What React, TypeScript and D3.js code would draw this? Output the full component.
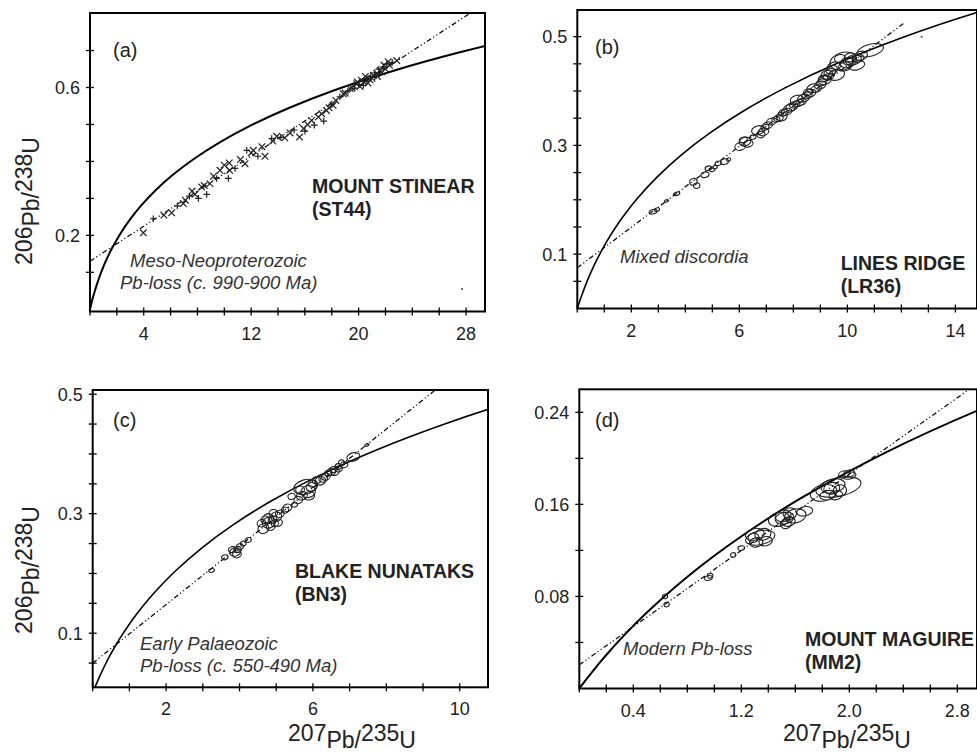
import React from 'react';
import * as d3 from 'd3';

// Decay constants (per year) defining the concordia curve
const LAMBDA238 = 1.55125e-10;
const LAMBDA235 = 9.8485e-10;
const concordiaAgesMa = [0, 10, 25, 50, 75, 100, 150, 200, 300, 400, 500, 600, 700, 800, 900, 1000, 1200, 1400, 1600, 1800, 2000, 2200, 2400, 2600, 2800, 3000, 3200, 3400, 3600, 3800];

// ---------- Panel (a) MOUNT STINEAR : SHRIMP spots (crosses) ----------
const aX = [3.97, 4.71, 5.5, 6.08, 6.5, 6.95, 7.1, 7.4, 7.6, 7.82, 8.07, 8.31, 8.5, 8.69, 8.93, 9.2, 9.43, 9.68, 10.0, 10.3, 10.37, 10.4, 10.8, 11.2, 11.54, 11.67, 12.0, 12.16, 12.5, 12.8, 13.03, 13.53, 13.6, 13.9, 14.2, 14.5, 14.9, 15.2, 15.6, 15.9, 16.0, 16.2, 16.5, 16.7, 17.0, 17.25, 17.4, 17.6, 17.8, 18.0, 18.1, 18.3, 18.6, 18.86, 19.0, 19.2, 19.36, 19.5, 19.7, 19.86, 19.9, 20.0, 20.1, 20.2, 20.35, 20.4, 20.5, 20.6, 20.7, 20.85, 20.9, 21.0, 21.1, 21.2, 21.35, 21.4, 21.5, 21.6, 21.7, 21.84, 21.9, 22.0, 22.1, 22.2, 22.3, 22.5, 22.84];
const aY = [0.207, 0.245, 0.255, 0.261, 0.28, 0.286, 0.295, 0.306, 0.32, 0.311, 0.3, 0.331, 0.335, 0.311, 0.34, 0.36, 0.354, 0.376, 0.39, 0.354, 0.396, 0.376, 0.381, 0.405, 0.394, 0.43, 0.423, 0.43, 0.414, 0.44, 0.414, 0.462, 0.455, 0.468, 0.465, 0.464, 0.477, 0.485, 0.466, 0.489, 0.482, 0.5, 0.511, 0.498, 0.52, 0.529, 0.509, 0.538, 0.545, 0.555, 0.552, 0.565, 0.575, 0.583, 0.585, 0.59, 0.597, 0.6, 0.598, 0.61, 0.615, 0.608, 0.603, 0.62, 0.606, 0.615, 0.63, 0.624, 0.612, 0.621, 0.63, 0.625, 0.633, 0.64, 0.638, 0.63, 0.65, 0.646, 0.642, 0.655, 0.66, 0.65, 0.664, 0.67, 0.66, 0.668, 0.673];
const aStrayX = [27.7];
const aStrayY = [0.055];
const aDiscordiaX = [0, 29.4];
const aDiscordiaY = [0.13, 0.827];
const aXTicks = [0, 2, 4, 6, 8, 10, 12, 14, 16, 18, 20, 22, 24, 26, 28];
const aXLabels = [4, 12, 20, 28];
const aYTicks = [0.1, 0.2, 0.3, 0.4, 0.5, 0.6, 0.7];
const aYLabels = [0.2, 0.6];

// ---------- Panel (b) LINES RIDGE : error ellipses ----------
const bX = [2.81, 2.95, 3.3, 3.68, 4.3, 4.42, 4.73, 4.85, 5.0, 5.1, 5.22, 5.45, 5.6, 6.03, 6.21, 6.33, 6.15, 6.5, 6.7, 6.89, 6.8, 6.95, 7.05, 7.2, 7.35, 7.45, 7.57, 7.63, 7.75, 7.85, 7.94, 8.05, 8.13, 8.38, 8.2, 8.3, 8.5, 8.55, 8.62, 8.74, 8.85, 8.99, 9.05, 9.1, 9.17, 9.24, 9.3, 9.35, 9.42, 9.5, 9.6, 9.85, 9.9, 9.98, 10.05, 10.22, 10.35, 10.4, 10.5, 10.85, 9.72, 10.1];
const bY = [0.178, 0.182, 0.198, 0.211, 0.233, 0.226, 0.246, 0.258, 0.255, 0.26, 0.267, 0.27, 0.274, 0.298, 0.307, 0.303, 0.31, 0.315, 0.328, 0.325, 0.32, 0.333, 0.337, 0.344, 0.348, 0.35, 0.353, 0.36, 0.362, 0.368, 0.371, 0.375, 0.384, 0.387, 0.378, 0.38, 0.392, 0.398, 0.396, 0.405, 0.404, 0.411, 0.416, 0.423, 0.42, 0.43, 0.426, 0.434, 0.439, 0.445, 0.43, 0.455, 0.445, 0.452, 0.455, 0.457, 0.447, 0.46, 0.465, 0.475, 0.46, 0.462];
const bEx = [0.15, 0.1, 0.08, 0.12, 0.14, 0.12, 0.15, 0.12, 0.1, 0.08, 0.12, 0.15, 0.08, 0.2, 0.22, 0.18, 0.15, 0.12, 0.25, 0.2, 0.15, 0.15, 0.18, 0.2, 0.15, 0.18, 0.2, 0.18, 0.2, 0.22, 0.22, 0.2, 0.25, 0.22, 0.2, 0.18, 0.2, 0.18, 0.22, 0.25, 0.2, 0.22, 0.2, 0.18, 0.25, 0.22, 0.2, 0.22, 0.22, 0.25, 0.3, 0.5, 0.25, 0.25, 0.2, 0.3, 0.3, 0.22, 0.25, 0.5, 0.2, 0.22];
const bEy = [0.004, 0.003, 0.002, 0.003, 0.006, 0.005, 0.005, 0.004, 0.003, 0.003, 0.004, 0.005, 0.003, 0.007, 0.008, 0.006, 0.005, 0.004, 0.008, 0.007, 0.006, 0.005, 0.006, 0.006, 0.005, 0.006, 0.008, 0.006, 0.006, 0.007, 0.007, 0.006, 0.008, 0.007, 0.006, 0.006, 0.006, 0.006, 0.007, 0.008, 0.006, 0.007, 0.006, 0.006, 0.008, 0.008, 0.006, 0.007, 0.008, 0.008, 0.01, 0.016, 0.008, 0.009, 0.007, 0.009, 0.008, 0.007, 0.008, 0.011, 0.007, 0.008];
const bStrayX = [12.75];
const bStrayY = [0.5];
const bDiscordiaX = [0, 12.1];
const bDiscordiaY = [0.075, 0.525];
const bXTicks = [0, 1, 2, 3, 4, 5, 6, 7, 8, 9, 10, 11, 12, 13, 14];
const bXLabels = [2, 6, 10, 14];
const bYTicks = [0.05, 0.1, 0.15, 0.2, 0.25, 0.3, 0.35, 0.4, 0.45, 0.5];
const bYLabels = [0.1, 0.3, 0.5];

// ---------- Panel (c) BLAKE NUNATAKS ----------
const cX = [3.24, 3.6, 3.8, 3.88, 3.93, 3.95, 4.01, 4.1, 4.24, 4.6, 4.65, 4.7, 4.78, 4.8, 4.9, 4.92, 4.96, 5.0, 5.05, 5.1, 4.85, 5.24, 5.3, 5.42, 5.6, 5.5, 5.65, 5.7, 5.8, 5.87, 5.9, 5.96, 6.0, 6.1, 6.2, 6.28, 6.35, 6.42, 6.5, 6.56, 6.6, 6.69, 6.7, 6.78, 6.85, 7.1, 7.47];
const cY = [0.205, 0.227, 0.24, 0.236, 0.232, 0.24, 0.245, 0.25, 0.256, 0.284, 0.275, 0.29, 0.292, 0.285, 0.29, 0.301, 0.284, 0.295, 0.285, 0.3, 0.278, 0.306, 0.31, 0.329, 0.323, 0.315, 0.34, 0.33, 0.345, 0.337, 0.33, 0.345, 0.35, 0.356, 0.355, 0.359, 0.362, 0.368, 0.37, 0.374, 0.37, 0.379, 0.375, 0.385, 0.382, 0.395, 0.415];
const cEx = [0.08, 0.09, 0.1, 0.15, 0.12, 0.1, 0.1, 0.08, 0.08, 0.12, 0.15, 0.12, 0.15, 0.18, 0.12, 0.12, 0.1, 0.15, 0.12, 0.12, 0.12, 0.1, 0.12, 0.1, 0.12, 0.08, 0.12, 0.15, 0.33, 0.2, 0.15, 0.15, 0.12, 0.12, 0.15, 0.12, 0.12, 0.1, 0.12, 0.1, 0.12, 0.08, 0.1, 0.08, 0.1, 0.18, 0.06];
const cEy = [0.003, 0.004, 0.005, 0.007, 0.006, 0.005, 0.005, 0.004, 0.004, 0.006, 0.008, 0.006, 0.008, 0.009, 0.006, 0.006, 0.006, 0.008, 0.006, 0.006, 0.006, 0.005, 0.006, 0.005, 0.006, 0.004, 0.006, 0.007, 0.012, 0.01, 0.007, 0.007, 0.006, 0.006, 0.007, 0.006, 0.006, 0.005, 0.006, 0.005, 0.006, 0.005, 0.005, 0.005, 0.005, 0.007, 0.002];
const cDiscordiaX = [0, 9.6];
const cDiscordiaY = [0.05, 0.52];
const cXTicks = [0, 1, 2, 3, 4, 5, 6, 7, 8, 9, 10];
const cXLabels = [2, 6, 10];
const cYTicks = [0.05, 0.1, 0.15, 0.2, 0.25, 0.3, 0.35, 0.4, 0.45, 0.5];
const cYLabels = [0.1, 0.3, 0.5];

// ---------- Panel (d) MOUNT MAGUIRE ----------
const dX = [0.635, 0.647, 0.956, 0.97, 1.14, 1.2, 1.29, 1.3, 1.34, 1.31, 1.36, 1.38, 1.48, 1.51, 1.52, 1.53, 1.55, 1.56, 1.6, 1.67, 1.81, 1.84, 1.87, 1.88, 1.9, 1.92, 1.93, 1.96, 2.0, 2.0];
const dY = [0.08, 0.073, 0.096, 0.098, 0.116, 0.122, 0.131, 0.134, 0.131, 0.127, 0.134, 0.128, 0.147, 0.15, 0.148, 0.143, 0.145, 0.152, 0.15, 0.154, 0.17, 0.168, 0.174, 0.176, 0.168, 0.175, 0.172, 0.186, 0.187, 0.185];
const dEx = [0.02, 0.02, 0.03, 0.02, 0.02, 0.025, 0.04, 0.07, 0.11, 0.05, 0.06, 0.05, 0.08, 0.06, 0.07, 0.04, 0.05, 0.05, 0.08, 0.06, 0.1, 0.06, 0.06, 0.09, 0.05, 0.17, 0.05, 0.04, 0.04, 0.05];
const dEy = [0.002, 0.002, 0.002, 0.002, 0.002, 0.002, 0.004, 0.005, 0.006, 0.004, 0.005, 0.004, 0.006, 0.005, 0.005, 0.004, 0.004, 0.005, 0.006, 0.004, 0.007, 0.004, 0.005, 0.006, 0.004, 0.008, 0.005, 0.003, 0.003, 0.003];
const dDiscordiaX = [0, 2.95];
const dDiscordiaY = [0.0206, 0.265];
const dXTicks = [0, 0.2, 0.4, 0.6, 0.8, 1.0, 1.2, 1.4, 1.6, 1.8, 2.0, 2.2, 2.4, 2.6, 2.8];
const dXLabels = [0.4, 1.2, 2.0, 2.8];
const dYTicks = [0.04, 0.08, 0.12, 0.16, 0.2, 0.24];
const dYLabels = [0.08, 0.16, 0.24];

const FONT = 'Liberation Sans, Arial, Helvetica, sans-serif';
const TXT = '#222';

type PanelCfg = {
  id: string;
  left: number; right: number; top: number; bottom: number;
  xDomain: [number, number]; yDomain: [number, number];
  xTicks: number[]; xLabels: number[]; yTicks: number[]; yLabels: number[];
  xFmt: (v: number) => string; yFmt: (v: number) => string;
  px: number[]; py: number[]; ex?: number[]; ey?: number[];
  strayX?: number[]; strayY?: number[];
  discX: number[]; discY: number[];
  concWidth: number;
  tilt: number;
  letter: string; letterPos: [number, number];
  title: string[]; titlePos: [number, number];
  note: string[]; notePos: [number, number]; note2Shift: number;
  markers: 'cross' | 'ellipse';
};

function PanelView({ p }: { p: PanelCfg }) {
  const x = d3.scaleLinear().domain(p.xDomain).range([p.left, p.right]);
  const y = d3.scaleLinear().domain(p.yDomain).range([p.bottom, p.top]);
  const conc: [number, number][] = concordiaAgesMa.map((t) => [
    Math.exp(LAMBDA235 * t * 1e6) - 1,
    Math.exp(LAMBDA238 * t * 1e6) - 1,
  ]);
  const line = d3
    .line<[number, number]>()
    .x((d) => x(d[0]))
    .y((d) => y(d[1]))
    .curve(d3.curveCatmullRom);
  const disc: [number, number][] = p.discX.map((v, i) => [v, p.discY[i]]);
  const clipId = 'clip-' + p.id;
  const tick = 4;

  return (
    <g>
      <defs>
        <clipPath id={clipId}>
          <rect x={p.left} y={p.top} width={p.right - p.left} height={p.bottom - p.top} />
        </clipPath>
      </defs>
      <g clipPath={`url(#${clipId})`}>
        <path d={line(conc) || ''} fill="none" stroke="#000" strokeWidth={p.concWidth} />
        <path
          d={line(disc) || ''}
          fill="none"
          stroke="#000"
          strokeWidth={1.2}
          strokeDasharray="5 2.5 1.2 2.5 1.2 2.5"
        />
        {p.markers === 'cross' &&
          p.px.map((v, i) => {
            const cx = x(v);
            const cy = y(p.py[i]);
            const s = 3.3;
            const d =
              i % 3 === 1
                ? `M${cx - s},${cy}L${cx + s},${cy}M${cx},${cy - s}L${cx},${cy + s}`
                : `M${cx - s},${cy - s}L${cx + s},${cy + s}M${cx - s},${cy + s}L${cx + s},${cy - s}`;
            return <path key={i} d={d} stroke="#222" strokeWidth={1.2} fill="none" />;
          })}
        {p.markers === 'ellipse' &&
          p.px.map((v, i) => {
            const cx = x(v);
            const cy = y(p.py[i]);
            const rx = Math.abs(x(p.ex![i]) - x(0));
            const ry = Math.abs(y(0) - y(p.ey![i]));
            return (
              <ellipse
                key={i}
                cx={cx}
                cy={cy}
                rx={rx}
                ry={ry}
                transform={`rotate(${p.tilt} ${cx} ${cy})`}
                fill="none"
                stroke="#222"
                strokeWidth={1.1}
              />
            );
          })}
        {p.strayX &&
          p.strayX.map((v, i) => (
            <circle key={'s' + i} cx={x(v)} cy={y(p.strayY![i])} r={1} fill="#444" />
          ))}
      </g>
      <rect
        x={p.left}
        y={p.top}
        width={p.right - p.left}
        height={p.bottom - p.top}
        fill="none"
        stroke="#000"
        strokeWidth={2}
      />
      {p.xTicks.map((v) => (
        <line key={'xt' + v} x1={x(v)} x2={x(v)} y1={p.bottom - tick} y2={p.bottom + tick} stroke="#000" strokeWidth={1.3} />
      ))}
      {p.xLabels.map((v) => (
        <text key={'xl' + v} x={x(v)} y={p.bottom + 28} textAnchor="middle" fontSize={18} fontFamily={FONT} fill={TXT}>
          {p.xFmt(v)}
        </text>
      ))}
      {p.yTicks.map((v) => (
        <line key={'yt' + v} x1={p.left - tick} x2={p.left + tick} y1={y(v)} y2={y(v)} stroke="#000" strokeWidth={1.3} />
      ))}
      {p.yLabels.map((v) => (
        <text key={'yl' + v} x={p.left - 10} y={y(v) + 6.5} textAnchor="end" fontSize={18} fontFamily={FONT} fill={TXT}>
          {p.yFmt(v)}
        </text>
      ))}
      <text x={p.letterPos[0]} y={p.letterPos[1]} fontSize={20} fontFamily={FONT} fill={TXT}>
        {p.letter}
      </text>
      {p.title.map((t, i) => (
        <text key={'t' + i} x={p.titlePos[0]} y={p.titlePos[1] + i * 23} fontSize={19.5} fontWeight="bold" fontFamily={FONT} fill={TXT}>
          {t}
        </text>
      ))}
      {p.note.map((t, i) => (
        <text key={'n' + i} x={p.notePos[0] + (i > 0 ? p.note2Shift : 0)} y={p.notePos[1] + i * 22} fontSize={18.5} fontStyle="italic" fontFamily={FONT} fill="#333">
          {t}
        </text>
      ))}
    </g>
  );
}

function RatioLabel({ top, bottom, cx, cy, rotate }: { top: [string, string]; bottom: [string, string]; cx: number; cy: number; rotate: boolean }) {
  return (
    <text
      transform={rotate ? `translate(${cx},${cy}) rotate(-90)` : `translate(${cx},${cy})`}
      textAnchor="middle"
      fontSize={23}
      fontFamily={FONT}
      fill={TXT}
    >
      <tspan>{top[0]}</tspan>
      <tspan dy={7}>{top[1]}/</tspan>
      <tspan dy={-7}>{bottom[0]}</tspan>
      <tspan dy={7}>{bottom[1]}</tspan>
    </text>
  );
}

const f0 = (v: number) => String(v);
const f1 = d3.format('.1f');
const f2 = d3.format('.2f');

const panels: PanelCfg[] = [
  {
    id: 'a', left: 90, right: 485, top: 13, bottom: 311.5,
    xDomain: [0, 29.41], yDomain: [-0.006, 0.8016],
    xTicks: aXTicks, xLabels: aXLabels, yTicks: aYTicks, yLabels: aYLabels,
    xFmt: f0, yFmt: f1,
    px: aX, py: aY, strayX: aStrayX, strayY: aStrayY,
    discX: aDiscordiaX, discY: aDiscordiaY, concWidth: 2, tilt: 0,
    letter: '(a)', letterPos: [113, 57],
    title: ['MOUNT STINEAR', '(ST44)'], titlePos: [312, 193],
    note: ['Meso-Neoproterozoic', 'Pb-loss (c. 990-900 Ma)'], notePos: [130, 267], note2Shift: -10,
    markers: 'cross',
  },
  {
    id: 'b', left: 577.3, right: 977, top: 10, bottom: 308.5,
    xDomain: [0, 14.8], yDomain: [0, 0.549],
    xTicks: bXTicks, xLabels: bXLabels, yTicks: bYTicks, yLabels: bYLabels,
    xFmt: f0, yFmt: f1,
    px: bX, py: bY, ex: bEx, ey: bEy, strayX: bStrayX, strayY: bStrayY,
    discX: bDiscordiaX, discY: bDiscordiaY, concWidth: 1.6, tilt: -15,
    letter: '(b)', letterPos: [595, 54],
    title: ['LINES RIDGE', '(LR36)'], titlePos: [840.7, 270],
    note: ['Mixed discordia'], notePos: [620, 263], note2Shift: 0,
    markers: 'ellipse',
  },
  {
    id: 'c', left: 92.7, right: 488, top: 390, bottom: 687.3,
    xDomain: [0, 10.77], yDomain: [0.0095, 0.507],
    xTicks: cXTicks, xLabels: cXLabels, yTicks: cYTicks, yLabels: cYLabels,
    xFmt: f0, yFmt: f1,
    px: cX, py: cY, ex: cEx, ey: cEy,
    discX: cDiscordiaX, discY: cDiscordiaY, concWidth: 1.6, tilt: -15,
    letter: '(c)', letterPos: [113, 427],
    title: ['BLAKE NUNATAKS', '(BN3)'], titlePos: [295, 578],
    note: ['Early Palaeozoic', 'Pb-loss (c. 550-490 Ma)'], notePos: [140, 650], note2Shift: 0,
    markers: 'ellipse',
  },
  {
    id: 'd', left: 579.3, right: 977, top: 389.3, bottom: 688.5,
    xDomain: [0, 2.946], yDomain: [0, 0.26],
    xTicks: dXTicks, xLabels: dXLabels, yTicks: dYTicks, yLabels: dYLabels,
    xFmt: f1, yFmt: f2,
    px: dX, py: dY, ex: dEx, ey: dEy,
    discX: dDiscordiaX, discY: dDiscordiaY, concWidth: 2, tilt: -12,
    letter: '(d)', letterPos: [595, 427],
    title: ['MOUNT MAGUIRE', '(MM2)'], titlePos: [805, 646],
    note: ['Modern Pb-loss'], notePos: [623, 655], note2Shift: 0,
    markers: 'ellipse',
  },
];

export default function App() {
  return (
    <svg
      width={977}
      height={753}
      viewBox="0 0 977 753"
      style={{ position: 'absolute', left: 0, top: 0, background: '#fff' }}
    >
      <rect width={977} height={753} fill="#fff" />
      {panels.map((p) => (
        <PanelView key={p.id} p={p} />
      ))}
      <RatioLabel top={['206', 'Pb']} bottom={['238', 'U']} cx={32} cy={201} rotate />
      <RatioLabel top={['206', 'Pb']} bottom={['238', 'U']} cx={32} cy={570} rotate />
      <RatioLabel top={['207', 'Pb']} bottom={['235', 'U']} cx={352} cy={741} rotate={false} />
      <RatioLabel top={['207', 'Pb']} bottom={['235', 'U']} cx={847} cy={741} rotate={false} />
    </svg>
  );
}
